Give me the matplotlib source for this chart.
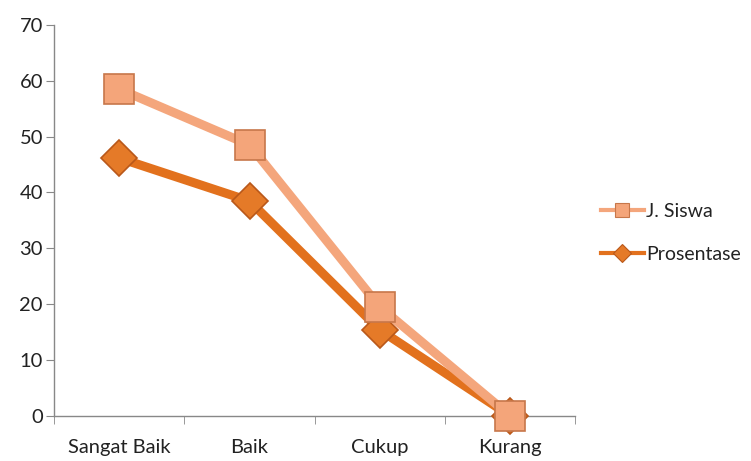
import numpy as np
import matplotlib.pyplot as plt
from matplotlib.lines import Line2D

categories = ['Sangat Baik', 'Baik', 'Cukup', 'Kurang']
jumlah_siswa = [58.5, 48.5, 19.5, 0]
prosentase = [46.15, 38.46, 15.38, 0]

plt.rcParams['font.family'] = ['Lato', 'DejaVu Sans']

fig = plt.figure(figsize=(7.51, 4.61), dpi=100)
ax = fig.add_axes([0.072, 0.098, 0.694, 0.848])

x = np.arange(len(categories))

ax.plot(x, prosentase, color='#E2711D', lw=6.5, marker='D', markersize=18,
        markerfacecolor='#E57A28', markeredgecolor='#B9581A', markeredgewidth=1.2,
        zorder=3, clip_on=False)
ax.plot(x, jumlah_siswa, color='#F4A67C', lw=6.5, marker='s', markersize=22,
        markerfacecolor='#F4A57A', markeredgecolor='#C7774A', markeredgewidth=1.2,
        zorder=4, clip_on=False)

ax.set_xlim(-0.5, len(categories) - 0.5)
ax.set_ylim(0, 70)
ax.set_yticks(range(0, 71, 10))
ax.set_xticks(x)
ax.set_xticklabels(categories)
ax.set_xticks(np.arange(-0.5, len(categories), 1), minor=True)
ax.tick_params(axis='x', which='major', length=0, pad=17, labelsize=14.5, colors='#222222')
ax.tick_params(axis='x', which='minor', length=6, color='#888888')
ax.tick_params(axis='y', length=6, color='#888888', pad=2, labelsize=14.5, labelcolor='#222222')

for side in ['top', 'right']:
    ax.spines[side].set_visible(False)
for side in ['left', 'bottom']:
    ax.spines[side].set_color('#888888')
    ax.spines[side].set_linewidth(1.0)

# legend with thinner lines and small markers
handles = [
    Line2D([], [], color='#F4A67C', lw=3, marker='s', markersize=10,
           markerfacecolor='#F4A57A', markeredgecolor='#C7774A', markeredgewidth=0.8),
    Line2D([], [], color='#E2711D', lw=3, marker='D', markersize=9,
           markerfacecolor='#E57A28', markeredgecolor='#B9581A', markeredgewidth=0.8),
]
leg = fig.legend(handles, ['J. Siswa', 'Prosentase'], loc='center left',
                 bbox_to_anchor=(0.79, 0.495), frameon=False, fontsize=14,
                 handlelength=2.2, handletextpad=0.1, labelspacing=1.35,
                 borderaxespad=0)
for t in leg.get_texts():
    t.set_color('#222222')

fig.savefig('out.png', dpi=100)
